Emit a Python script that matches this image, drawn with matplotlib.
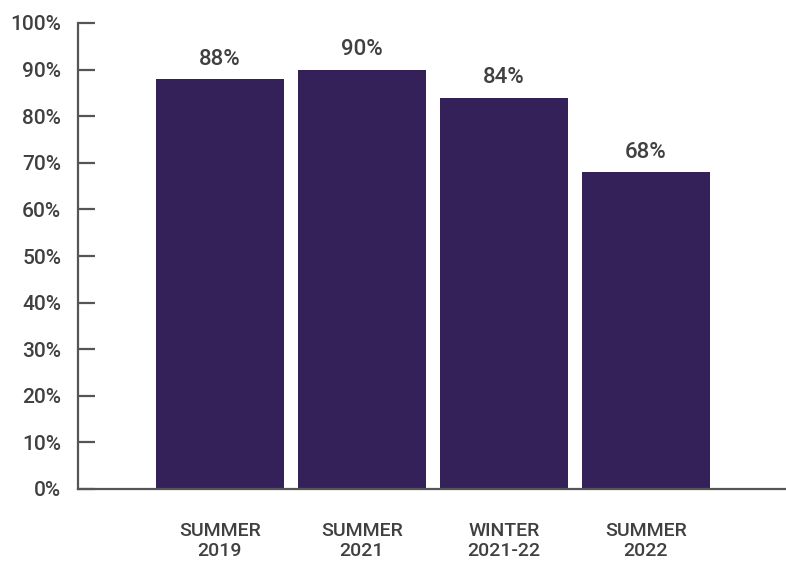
import matplotlib.pyplot as plt
import numpy as np
from matplotlib.ticker import PercentFormatter

plt.rcParams['font.family'] = ['Roboto', 'DejaVu Sans']
plt.rcParams['font.weight'] = 'medium'

# Data
categories = ['SUMMER\n2019', 'SUMMER\n2021', 'WINTER\n2021-22', 'SUMMER\n2022']
values = [88, 90, 84, 68]

bar_color = '#35215a'
text_color = '#404040'

fig = plt.figure(figsize=(7.86, 5.65), dpi=100)
ax = fig.add_axes([78 / 786, 1 - 489 / 565, 708 / 786, 466 / 565])

x = np.arange(len(categories))
bars = ax.bar(x, values, width=0.9, color=bar_color)

for xi, v in zip(x, values):
    ax.text(xi, v + 2, f'{v}%', ha='center', va='bottom', fontsize=16, color=text_color)

ax.set_ylim(0, 100)
ax.set_xlim(-1.0, 3.986)
ax.set_yticks(np.arange(0, 101, 10))
ax.yaxis.set_major_formatter(PercentFormatter(decimals=0))
ax.set_xticks(x)
ax.set_xticklabels(categories, linespacing=1.1)

ax.tick_params(axis='y', direction='in', length=12, width=1.6, color='#555555',
               pad=12, labelsize=15, labelcolor=text_color)
ax.tick_params(axis='x', length=0, pad=24, labelsize=14, labelcolor=text_color)

for side in ['top', 'right']:
    ax.spines[side].set_visible(False)
for side in ['left', 'bottom']:
    ax.spines[side].set_color('#555555')
    ax.spines[side].set_linewidth(1.6)

plt.savefig('out.png', dpi=100)
